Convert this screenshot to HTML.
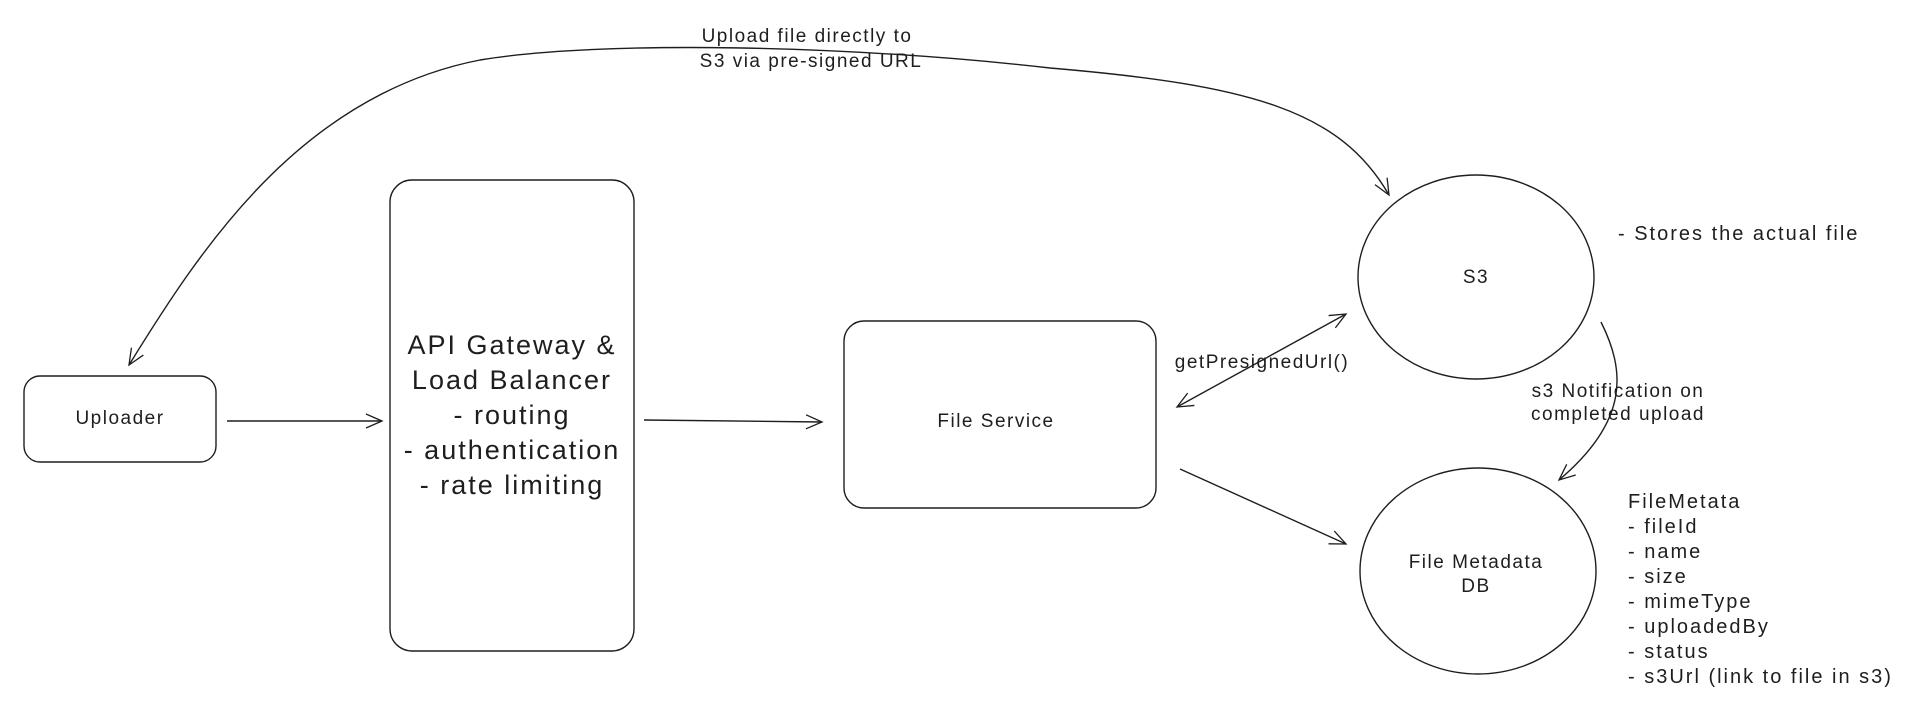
<!DOCTYPE html>
<html><head><meta charset="utf-8"><style>
html,body{margin:0;padding:0;background:#fff;}
svg{display:block}
text{font-family:"Liberation Sans",sans-serif;fill:#1e1e1e;}
</style></head><body>
<svg width="1907" height="715" viewBox="0 0 1907 715" xmlns="http://www.w3.org/2000/svg">
<defs>
<marker id="a" markerWidth="20" markerHeight="20" refX="18" refY="10" orient="auto" markerUnits="userSpaceOnUse">
<path d="M2,3 L18,10 L2,17" fill="none" stroke="#1e1e1e" stroke-width="1.3"/></marker>
<marker id="s" markerWidth="20" markerHeight="20" refX="2" refY="10" orient="auto" markerUnits="userSpaceOnUse">
<path d="M18,3 L2,10 L18,17" fill="none" stroke="#1e1e1e" stroke-width="1.3"/></marker>
</defs>
<g fill="none" stroke="#1e1e1e" stroke-width="1.4">
<rect x="24" y="376" width="192" height="86" rx="16"/>
<rect x="390" y="180" width="244" height="471" rx="22"/>
<rect x="844" y="321" width="312" height="187" rx="20"/>
<ellipse cx="1476" cy="277" rx="118" ry="102"/>
<ellipse cx="1478" cy="571" rx="118" ry="103"/>
<path d="M227,421 L382,421" marker-end="url(#a)"/>
<path d="M644,420 L822,422" marker-end="url(#a)"/>
<path d="M1177,407 L1346,314" marker-end="url(#a)" marker-start="url(#s)"/>
<path d="M1180,469 L1346,544" marker-end="url(#a)"/>
<path d="M1601,322 C1625,370 1630,420 1559,480" marker-end="url(#a)"/>
<path d="M1389,195 C1340,110 1250,85 1050,68 C850,45 600,40 480,60 C300,95 200,250 129,365" marker-end="url(#a)" marker-start="url(#s)"/>
</g>
<g font-size="19" text-anchor="middle" letter-spacing="1.5">
<text x="807" y="42">Upload file directly to</text>
<text x="811" y="67">S3 via pre-signed URL</text>
<text x="120" y="424">Uploader</text>
<text x="996" y="427">File Service</text>
<text x="1262" y="368">getPresignedUrl()</text>
<text x="1476" y="283">S3</text>
<text x="1476" y="568">File Metadata</text>
<text x="1476" y="592">DB</text>
<text x="1618" y="397">s3 Notification on</text>
<text x="1618" y="420">completed upload</text>
</g>
<g font-size="27" text-anchor="middle" letter-spacing="2">
<text x="512" y="354">API Gateway &amp;</text>
<text x="512" y="389">Load Balancer</text>
<text x="512" y="424">- routing</text>
<text x="512" y="459">- authentication</text>
<text x="512" y="494">- rate limiting</text>
</g>
<g font-size="20" letter-spacing="2">
<text x="1618" y="240">- Stores the actual file</text>
<text x="1628" y="508">FileMetata</text>
<text x="1628" y="533">- fileId</text>
<text x="1628" y="558">- name</text>
<text x="1628" y="583">- size</text>
<text x="1628" y="608">- mimeType</text>
<text x="1628" y="633">- uploadedBy</text>
<text x="1628" y="658">- status</text>
<text x="1628" y="683">- s3Url (link to file in s3)</text>
</g>
</svg>
</body></html>
